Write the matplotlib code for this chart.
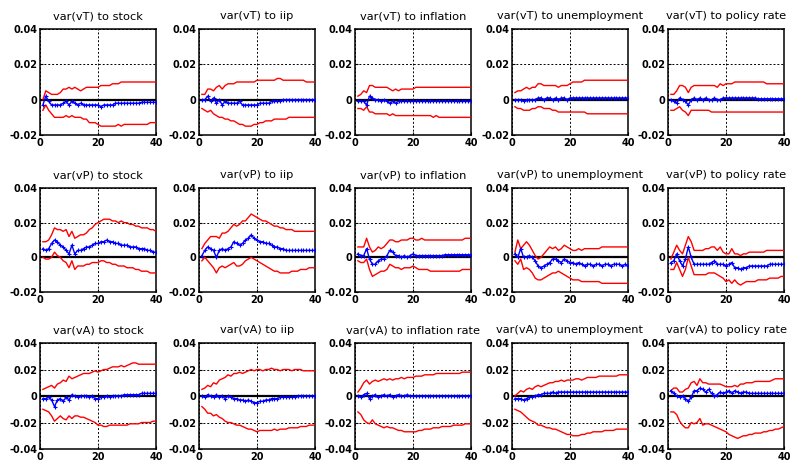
import numpy as np
import matplotlib
matplotlib.use("Agg")
import matplotlib.pyplot as plt
from matplotlib.ticker import FuncFormatter

plt.rcParams['font.family'] = ['DejaVu Sans']
plt.rcParams['axes.unicode_minus'] = False

horizon = np.arange(1, 41)

titles = [
    ["var(vT) to stock", "var(vT) to iip", "var(vT) to inflation", "var(vT) to unemployment", "var(vT) to policy rate"],
    ["var(vP) to stock", "var(vP) to iip", "var(vP) to inflation", "var(vP) to unemployment", "var(vP) to policy rate"],
    ["var(vA) to stock", "var(vA) to iip", "var(vA) to inflation rate", "var(vA) to unemployment", "var(vA) to policy rate"],
]
row_yticks = [[-0.02, 0, 0.02, 0.04], [-0.02, 0, 0.02, 0.04], [-0.04, -0.02, 0, 0.02, 0.04]]
xticks = [0, 20, 40]

# ---------------- row 1: vT ----------------
vT_stock_hi = [0.000, 0.005, 0.004, 0.003, 0.003, 0.003, 0.004, 0.006, 0.006, 0.007,
               0.006, 0.007, 0.006, 0.005, 0.006, 0.007, 0.007, 0.007, 0.007, 0.007,
               0.008, 0.008, 0.008, 0.008, 0.009, 0.009, 0.009, 0.010, 0.010, 0.010,
               0.010, 0.010, 0.010, 0.010, 0.010, 0.010, 0.010, 0.010, 0.010, 0.010]
vT_stock_md = [-0.003, 0.002, -0.001, -0.003, -0.003, -0.003, -0.003, -0.002, -0.001, -0.003,
               -0.001, -0.002, -0.003, -0.002, -0.003, -0.003, -0.003, -0.003, -0.003, -0.003,
               -0.004, -0.003, -0.003, -0.003, -0.003, -0.002, -0.002, -0.002, -0.002, -0.002,
               -0.002, -0.002, -0.002, -0.002, -0.0015, -0.0015, -0.0015, -0.0015, -0.0015, -0.0015]
vT_stock_lo = [-0.006, -0.003, -0.006, -0.008, -0.010, -0.010, -0.010, -0.010, -0.009, -0.010,
               -0.009, -0.010, -0.010, -0.010, -0.011, -0.011, -0.013, -0.013, -0.013, -0.014,
               -0.015, -0.015, -0.015, -0.015, -0.015, -0.015, -0.014, -0.015, -0.014, -0.014,
               -0.014, -0.014, -0.014, -0.014, -0.014, -0.014, -0.014, -0.013, -0.013, -0.013]

vT_iip_hi = [0.003, 0.003, 0.006, 0.006, 0.005, 0.007, 0.008, 0.006, 0.008, 0.009,
             0.009, 0.009, 0.010, 0.010, 0.010, 0.010, 0.010, 0.010, 0.010, 0.011,
             0.011, 0.011, 0.011, 0.011, 0.011, 0.011, 0.012, 0.012, 0.011, 0.011,
             0.011, 0.011, 0.011, 0.011, 0.011, 0.011, 0.010, 0.010, 0.010, 0.010]
vT_iip_md = [0.000, 0.000, 0.002, -0.001, 0.001, -0.002, 0.000, -0.003, -0.001, -0.002,
             -0.002, -0.002, -0.002, -0.001, -0.003, -0.003, -0.003, -0.003, -0.003, -0.003,
             -0.002, -0.002, -0.002, -0.002, -0.001, -0.001, -0.001, -0.001, 0.000, 0.000,
             0.000, 0.000, 0.000, 0.000, 0.000, 0.000, 0.000, 0.000, 0.000, 0.000]
vT_iip_lo = [-0.005, -0.006, -0.007, -0.006, -0.008, -0.009, -0.010, -0.010, -0.011, -0.011,
             -0.012, -0.012, -0.013, -0.014, -0.014, -0.015, -0.015, -0.015, -0.014, -0.014,
             -0.013, -0.013, -0.012, -0.012, -0.012, -0.011, -0.011, -0.011, -0.011, -0.011,
             -0.010, -0.010, -0.010, -0.010, -0.010, -0.010, -0.010, -0.010, -0.010, -0.010]

vT_infl_hi = [0.002, 0.003, 0.005, 0.004, 0.008, 0.008, 0.007, 0.007, 0.007, 0.007,
              0.007, 0.006, 0.005, 0.006, 0.005, 0.006, 0.006, 0.006, 0.006, 0.006,
              0.007, 0.007, 0.007, 0.007, 0.007, 0.007, 0.007, 0.007, 0.007, 0.007,
              0.007, 0.007, 0.007, 0.007, 0.007, 0.007, 0.007, 0.007, 0.007, 0.007]
vT_infl_md = [-0.001, -0.001, -0.001, -0.003, 0.002, 0.001, 0.000, 0.000, -0.001, 0.000,
              -0.001, -0.002, -0.001, -0.002, -0.001, -0.001, -0.001, -0.001, -0.001, -0.001,
              -0.001, -0.001, -0.001, -0.001, -0.001, -0.001, -0.001, -0.001, -0.001, -0.001,
              -0.001, -0.001, -0.001, -0.001, -0.001, -0.001, -0.001, -0.001, -0.001, -0.001]
vT_infl_lo = [-0.005, -0.005, -0.006, -0.004, -0.007, -0.007, -0.008, -0.008, -0.008, -0.008,
              -0.008, -0.009, -0.008, -0.009, -0.009, -0.009, -0.009, -0.009, -0.009, -0.009,
              -0.009, -0.009, -0.009, -0.009, -0.009, -0.009, -0.010, -0.009, -0.010, -0.010,
              -0.010, -0.010, -0.010, -0.010, -0.010, -0.010, -0.010, -0.010, -0.010, -0.010]

vT_unemp_hi = [0.004, 0.005, 0.005, 0.006, 0.007, 0.006, 0.007, 0.007, 0.009, 0.009,
               0.008, 0.008, 0.008, 0.008, 0.008, 0.007, 0.008, 0.008, 0.008, 0.009,
               0.010, 0.010, 0.010, 0.010, 0.011, 0.011, 0.011, 0.011, 0.011, 0.011,
               0.011, 0.011, 0.011, 0.011, 0.011, 0.011, 0.011, 0.011, 0.011, 0.011]
vT_unemp_md = [0.000, 0.000, 0.000, -0.001, 0.000, 0.000, 0.000, 0.000, 0.001, 0.001,
               0.000, 0.001, 0.001, 0.000, 0.001, 0.000, 0.001, 0.001, 0.000, 0.001,
               0.001, 0.001, 0.001, 0.001, 0.001, 0.001, 0.001, 0.001, 0.001, 0.001,
               0.001, 0.001, 0.001, 0.001, 0.001, 0.001, 0.001, 0.001, 0.001, 0.001]
vT_unemp_lo = [-0.004, -0.005, -0.005, -0.006, -0.006, -0.006, -0.005, -0.005, -0.004, -0.004,
               -0.005, -0.005, -0.005, -0.006, -0.006, -0.007, -0.007, -0.007, -0.007, -0.007,
               -0.007, -0.007, -0.007, -0.007, -0.007, -0.008, -0.008, -0.008, -0.008, -0.008,
               -0.008, -0.008, -0.008, -0.008, -0.008, -0.008, -0.008, -0.008, -0.008, -0.008]

vT_rate_hi = [0.003, 0.003, 0.005, 0.008, 0.008, 0.007, 0.004, 0.007, 0.008, 0.008,
              0.008, 0.008, 0.008, 0.008, 0.008, 0.008, 0.007, 0.009, 0.008, 0.009,
              0.009, 0.009, 0.010, 0.010, 0.010, 0.010, 0.010, 0.010, 0.010, 0.010,
              0.010, 0.010, 0.010, 0.009, 0.009, 0.009, 0.009, 0.009, 0.009, 0.009]
vT_rate_md = [0.000, -0.001, -0.002, 0.001, 0.000, -0.001, -0.003, 0.000, 0.001, 0.000,
              0.001, 0.000, 0.001, 0.000, 0.000, 0.001, 0.000, 0.000, 0.001, 0.001,
              0.001, 0.001, 0.001, 0.001, 0.001, 0.001, 0.001, 0.001, 0.001, 0.001,
              0.0005, 0.0005, 0.0005, 0.0005, 0.0005, 0.0005, 0.0005, 0.0005, 0.0005, 0.0005]
vT_rate_lo = [-0.006, -0.006, -0.005, -0.004, -0.006, -0.007, -0.009, -0.006, -0.006, -0.006,
              -0.006, -0.006, -0.006, -0.006, -0.007, -0.007, -0.007, -0.007, -0.007, -0.007,
              -0.007, -0.007, -0.007, -0.007, -0.007, -0.007, -0.007, -0.007, -0.007, -0.007,
              -0.007, -0.007, -0.007, -0.007, -0.007, -0.007, -0.007, -0.007, -0.007, -0.007]

# ---------------- row 2: vP ----------------
vP_stock_hi = [0.009, 0.009, 0.010, 0.013, 0.017, 0.016, 0.016, 0.015, 0.016, 0.012,
               0.015, 0.011, 0.012, 0.013, 0.013, 0.014, 0.016, 0.017, 0.019, 0.020,
               0.021, 0.022, 0.022, 0.022, 0.021, 0.021, 0.020, 0.021, 0.020, 0.020,
               0.019, 0.019, 0.018, 0.018, 0.017, 0.017, 0.017, 0.016, 0.016, 0.015]
vP_stock_md = [0.005, 0.004, 0.005, 0.008, 0.010, 0.009, 0.007, 0.006, 0.004, 0.002,
               0.007, 0.002, 0.004, 0.004, 0.005, 0.006, 0.006, 0.007, 0.008, 0.008,
               0.009, 0.009, 0.010, 0.009, 0.009, 0.008, 0.008, 0.007, 0.007, 0.007,
               0.006, 0.006, 0.006, 0.005, 0.005, 0.005, 0.004, 0.004, 0.003, 0.003]
vP_stock_lo = [0.000, -0.001, -0.001, 0.000, 0.003, 0.001, 0.000, -0.002, -0.003, -0.006,
               -0.002, -0.007, -0.005, -0.005, -0.005, -0.004, -0.004, -0.003, -0.003, -0.003,
               -0.002, -0.002, -0.003, -0.003, -0.004, -0.004, -0.005, -0.005, -0.005, -0.006,
               -0.006, -0.006, -0.007, -0.007, -0.008, -0.008, -0.008, -0.009, -0.009, -0.009]

vP_iip_hi = [0.005, 0.008, 0.010, 0.012, 0.012, 0.012, 0.011, 0.014, 0.014, 0.015,
             0.017, 0.019, 0.018, 0.019, 0.021, 0.021, 0.023, 0.025, 0.024, 0.023,
             0.022, 0.021, 0.021, 0.020, 0.019, 0.018, 0.018, 0.017, 0.017, 0.016,
             0.016, 0.016, 0.015, 0.015, 0.015, 0.015, 0.015, 0.015, 0.015, 0.015]
vP_iip_md = [0.001, 0.004, 0.006, 0.005, 0.004, 0.000, 0.004, 0.005, 0.004, 0.005,
             0.006, 0.009, 0.008, 0.007, 0.008, 0.010, 0.011, 0.013, 0.011, 0.010,
             0.009, 0.009, 0.008, 0.008, 0.007, 0.006, 0.006, 0.005, 0.005, 0.004,
             0.004, 0.004, 0.004, 0.004, 0.004, 0.004, 0.004, 0.004, 0.004, 0.004]
vP_iip_lo = [-0.002, 0.000, -0.002, -0.004, -0.006, -0.009, -0.006, -0.005, -0.006, -0.005,
             -0.004, -0.003, -0.005, -0.005, -0.004, -0.002, -0.001, 0.000, -0.001, -0.002,
             -0.003, -0.004, -0.005, -0.006, -0.007, -0.008, -0.008, -0.009, -0.009, -0.009,
             -0.009, -0.008, -0.008, -0.008, -0.007, -0.007, -0.007, -0.006, -0.006, -0.006]

vP_infl_hi = [0.006, 0.006, 0.006, 0.011, 0.006, 0.003, 0.004, 0.006, 0.005, 0.006,
              0.008, 0.010, 0.010, 0.009, 0.009, 0.010, 0.010, 0.010, 0.011, 0.011,
              0.010, 0.010, 0.011, 0.010, 0.010, 0.010, 0.010, 0.010, 0.010, 0.010,
              0.010, 0.010, 0.010, 0.010, 0.010, 0.010, 0.010, 0.011, 0.011, 0.011]
vP_infl_md = [0.002, 0.001, 0.001, 0.005, -0.001, -0.004, -0.004, -0.002, -0.001, -0.001,
              0.001, 0.004, 0.003, 0.001, 0.001, 0.000, 0.001, 0.000, 0.001, 0.002,
              0.001, 0.001, 0.001, 0.001, 0.001, 0.001, 0.001, 0.001, 0.001, 0.001,
              0.0015, 0.0015, 0.0015, 0.0015, 0.0015, 0.0015, 0.0015, 0.0015, 0.0015, 0.0015]
vP_infl_lo = [-0.002, -0.003, -0.003, -0.001, -0.007, -0.011, -0.010, -0.009, -0.008, -0.008,
              -0.007, -0.004, -0.005, -0.006, -0.006, -0.007, -0.006, -0.006, -0.006, -0.005,
              -0.006, -0.007, -0.007, -0.007, -0.007, -0.008, -0.008, -0.008, -0.008, -0.008,
              -0.008, -0.008, -0.008, -0.008, -0.008, -0.008, -0.007, -0.007, -0.007, -0.007]

vP_unemp_hi = [0.003, 0.010, 0.005, 0.007, 0.009, 0.007, 0.004, 0.001, -0.001, 0.000,
               0.002, 0.004, 0.006, 0.005, 0.006, 0.004, 0.005, 0.007, 0.006, 0.005,
               0.004, 0.004, 0.005, 0.004, 0.005, 0.005, 0.005, 0.005, 0.005, 0.005,
               0.006, 0.006, 0.006, 0.006, 0.006, 0.006, 0.006, 0.006, 0.006, 0.006]
vP_unemp_md = [0.002, 0.000, 0.005, 0.000, 0.000, 0.001, 0.000, -0.002, -0.005, -0.006,
               -0.005, -0.004, -0.003, -0.001, -0.001, -0.002, -0.003, -0.001, -0.002, -0.003,
               -0.003, -0.004, -0.003, -0.004, -0.005, -0.004, -0.004, -0.005, -0.004, -0.004,
               -0.005, -0.004, -0.004, -0.005, -0.004, -0.004, -0.004, -0.005, -0.004, -0.005]
vP_unemp_lo = [-0.002, -0.004, -0.001, -0.007, -0.006, -0.007, -0.009, -0.012, -0.013, -0.013,
               -0.012, -0.011, -0.010, -0.009, -0.009, -0.008, -0.009, -0.010, -0.011, -0.012,
               -0.013, -0.013, -0.013, -0.014, -0.014, -0.014, -0.014, -0.014, -0.014, -0.014,
               -0.015, -0.015, -0.015, -0.015, -0.015, -0.015, -0.015, -0.015, -0.015, -0.015]

vP_rate_hi = [-0.001, 0.003, 0.007, 0.004, 0.002, 0.007, 0.012, 0.009, 0.004, 0.004,
              0.004, 0.004, 0.005, 0.005, 0.006, 0.006, 0.004, 0.006, 0.003, 0.002,
              0.002, 0.005, 0.002, 0.002, 0.001, 0.002, 0.002, 0.003, 0.003, 0.003,
              0.003, 0.003, 0.003, 0.004, 0.004, 0.004, 0.004, 0.004, 0.004, 0.004]
vP_rate_md = [-0.003, -0.002, 0.002, -0.002, -0.005, -0.001, 0.006, 0.000, -0.004, -0.004,
              -0.004, -0.004, -0.004, -0.004, -0.003, -0.002, -0.004, -0.004, -0.004, -0.005,
              -0.004, -0.003, -0.006, -0.006, -0.007, -0.006, -0.006, -0.005, -0.005, -0.005,
              -0.005, -0.005, -0.005, -0.005, -0.004, -0.004, -0.004, -0.004, -0.004, -0.004]
vP_rate_lo = [-0.007, -0.007, -0.003, -0.007, -0.011, -0.007, 0.000, -0.005, -0.010, -0.010,
              -0.010, -0.010, -0.010, -0.009, -0.009, -0.009, -0.010, -0.011, -0.012, -0.014,
              -0.013, -0.015, -0.013, -0.015, -0.016, -0.015, -0.014, -0.014, -0.014, -0.014,
              -0.013, -0.013, -0.013, -0.013, -0.012, -0.012, -0.012, -0.012, -0.011, -0.011]

# ---------------- row 3: vA ----------------
vA_stock_hi = [0.005, 0.006, 0.007, 0.008, 0.006, 0.009, 0.010, 0.012, 0.011, 0.015,
               0.013, 0.014, 0.015, 0.016, 0.017, 0.017, 0.017, 0.018, 0.019, 0.018,
               0.019, 0.020, 0.020, 0.021, 0.022, 0.022, 0.022, 0.023, 0.022, 0.023,
               0.024, 0.025, 0.025, 0.024, 0.024, 0.024, 0.024, 0.024, 0.024, 0.024]
vA_stock_md = [-0.002, -0.002, -0.001, -0.003, -0.008, -0.003, -0.002, -0.004, -0.001, -0.003,
               0.001, 0.000, -0.001, 0.000, 0.000, 0.000, -0.001, 0.000, -0.002, -0.002,
               -0.001, -0.001, 0.000, -0.001, 0.000, 0.000, 0.000, 0.000, 0.001, 0.001,
               0.001, 0.001, 0.001, 0.001, 0.002, 0.002, 0.002, 0.002, 0.002, 0.002]
vA_stock_lo = [-0.010, -0.011, -0.012, -0.015, -0.019, -0.017, -0.015, -0.017, -0.018, -0.015,
               -0.017, -0.015, -0.015, -0.016, -0.016, -0.017, -0.018, -0.019, -0.020, -0.022,
               -0.022, -0.023, -0.023, -0.022, -0.022, -0.022, -0.022, -0.022, -0.022, -0.022,
               -0.021, -0.021, -0.021, -0.021, -0.020, -0.020, -0.020, -0.020, -0.019, -0.019]

vA_iip_hi = [0.005, 0.006, 0.008, 0.007, 0.010, 0.009, 0.012, 0.013, 0.014, 0.016,
             0.015, 0.017, 0.017, 0.018, 0.017, 0.018, 0.019, 0.020, 0.019, 0.020,
             0.020, 0.019, 0.020, 0.020, 0.021, 0.020, 0.020, 0.019, 0.020, 0.020,
             0.020, 0.019, 0.020, 0.020, 0.020, 0.019, 0.019, 0.019, 0.019, 0.019]
vA_iip_md = [0.000, -0.001, 0.001, 0.000, -0.001, 0.001, -0.001, 0.000, -0.002, 0.000,
             -0.001, -0.002, -0.002, -0.003, -0.003, -0.004, -0.003, -0.004, -0.005, -0.005,
             -0.004, -0.004, -0.003, -0.003, -0.002, -0.002, -0.002, -0.001, -0.001, -0.001,
             -0.001, -0.001, -0.001, 0.000, 0.000, 0.000, 0.000, 0.000, 0.000, 0.000]
vA_iip_lo = [-0.008, -0.010, -0.013, -0.013, -0.015, -0.014, -0.016, -0.017, -0.019, -0.020,
             -0.020, -0.021, -0.022, -0.022, -0.023, -0.024, -0.025, -0.025, -0.026, -0.027,
             -0.026, -0.026, -0.026, -0.026, -0.026, -0.025, -0.026, -0.025, -0.025, -0.025,
             -0.024, -0.024, -0.024, -0.024, -0.023, -0.023, -0.023, -0.022, -0.022, -0.022]

vA_infl_hi = [0.003, 0.006, 0.010, 0.012, 0.009, 0.011, 0.012, 0.011, 0.012, 0.013,
              0.012, 0.013, 0.012, 0.013, 0.013, 0.014, 0.013, 0.014, 0.014, 0.014,
              0.015, 0.015, 0.015, 0.016, 0.016, 0.016, 0.016, 0.017, 0.017, 0.017,
              0.017, 0.017, 0.017, 0.017, 0.017, 0.017, 0.018, 0.018, 0.018, 0.018]
vA_infl_md = [0.000, -0.001, 0.001, 0.002, -0.002, 0.000, 0.001, -0.001, 0.000, 0.001,
              0.000, 0.001, -0.001, 0.000, 0.001, 0.000, 0.000, 0.001, 0.000, 0.000,
              0.000, 0.000, 0.000, 0.000, 0.000, 0.000, 0.000, 0.000, 0.000, 0.000,
              0.000, 0.000, 0.000, 0.000, 0.000, 0.000, 0.000, 0.000, 0.000, 0.000]
vA_infl_lo = [-0.012, -0.014, -0.018, -0.020, -0.021, -0.018, -0.021, -0.022, -0.023, -0.024,
              -0.023, -0.024, -0.024, -0.025, -0.026, -0.026, -0.027, -0.027, -0.027, -0.027,
              -0.027, -0.026, -0.026, -0.025, -0.025, -0.025, -0.024, -0.024, -0.024, -0.023,
              -0.023, -0.023, -0.023, -0.022, -0.022, -0.022, -0.022, -0.021, -0.021, -0.021]

vA_unemp_hi = [0.000, 0.002, 0.004, 0.003, 0.005, 0.006, 0.005, 0.007, 0.008, 0.007,
               0.008, 0.009, 0.010, 0.010, 0.011, 0.011, 0.012, 0.011, 0.012, 0.012,
               0.012, 0.013, 0.013, 0.012, 0.013, 0.014, 0.014, 0.014, 0.014, 0.015,
               0.015, 0.015, 0.015, 0.015, 0.015, 0.015, 0.016, 0.016, 0.016, 0.016]
vA_unemp_md = [-0.002, -0.002, -0.002, -0.003, -0.002, -0.001, -0.001, 0.000, 0.001, 0.001,
               0.002, 0.002, 0.002, 0.003, 0.002, 0.003, 0.003, 0.003, 0.003, 0.003,
               0.003, 0.003, 0.003, 0.003, 0.003, 0.003, 0.003, 0.003, 0.003, 0.003,
               0.003, 0.003, 0.003, 0.003, 0.003, 0.003, 0.003, 0.003, 0.003, 0.003]
vA_unemp_lo = [-0.010, -0.011, -0.012, -0.014, -0.016, -0.018, -0.019, -0.020, -0.022, -0.022,
               -0.023, -0.024, -0.024, -0.025, -0.025, -0.026, -0.027, -0.028, -0.029, -0.029,
               -0.030, -0.030, -0.030, -0.029, -0.029, -0.028, -0.028, -0.027, -0.027, -0.027,
               -0.027, -0.026, -0.026, -0.026, -0.026, -0.025, -0.025, -0.025, -0.025, -0.025]

vA_rate_hi = [0.004, 0.006, 0.006, 0.003, 0.003, 0.005, 0.006, 0.010, 0.011, 0.008,
              0.013, 0.010, 0.010, 0.009, 0.009, 0.009, 0.009, 0.009, 0.008, 0.007,
              0.007, 0.007, 0.008, 0.007, 0.009, 0.009, 0.010, 0.010, 0.010, 0.011,
              0.011, 0.011, 0.011, 0.011, 0.011, 0.012, 0.013, 0.013, 0.013, 0.013]
vA_rate_md = [0.004, 0.002, 0.000, -0.001, 0.000, -0.002, -0.004, -0.001, 0.004, 0.004,
              0.006, 0.005, 0.003, 0.005, 0.002, 0.000, 0.001, 0.003, 0.002, 0.003,
              0.004, 0.002, 0.004, 0.003, 0.002, 0.003, 0.003, 0.002, 0.002, 0.002,
              0.002, 0.002, 0.002, 0.002, 0.002, 0.002, 0.002, 0.002, 0.002, 0.002]
vA_rate_lo = [-0.012, -0.012, -0.014, -0.019, -0.022, -0.024, -0.024, -0.020, -0.021, -0.020,
              -0.017, -0.022, -0.021, -0.021, -0.022, -0.023, -0.024, -0.025, -0.026, -0.027,
              -0.029, -0.030, -0.031, -0.032, -0.031, -0.030, -0.030, -0.029, -0.029, -0.028,
              -0.028, -0.028, -0.027, -0.027, -0.026, -0.026, -0.025, -0.025, -0.024, -0.023]

panels = [
    [(vT_stock_lo, vT_stock_md, vT_stock_hi), (vT_iip_lo, vT_iip_md, vT_iip_hi),
     (vT_infl_lo, vT_infl_md, vT_infl_hi), (vT_unemp_lo, vT_unemp_md, vT_unemp_hi),
     (vT_rate_lo, vT_rate_md, vT_rate_hi)],
    [(vP_stock_lo, vP_stock_md, vP_stock_hi), (vP_iip_lo, vP_iip_md, vP_iip_hi),
     (vP_infl_lo, vP_infl_md, vP_infl_hi), (vP_unemp_lo, vP_unemp_md, vP_unemp_hi),
     (vP_rate_lo, vP_rate_md, vP_rate_hi)],
    [(vA_stock_lo, vA_stock_md, vA_stock_hi), (vA_iip_lo, vA_iip_md, vA_iip_hi),
     (vA_infl_lo, vA_infl_md, vA_infl_hi), (vA_unemp_lo, vA_unemp_md, vA_unemp_hi),
     (vA_rate_lo, vA_rate_md, vA_rate_hi)],
]

W, H = 794, 465
fig = plt.figure(figsize=(W / 100, H / 100), dpi=100)

col_left = [40, 199, 355, 512, 668]
ax_w = 116
row_top = [29, 188, 343]
row_h = [106, 104, 106]


def fmt(v, pos):
    if abs(v) < 1e-12:
        return "0"
    if abs(v - round(v)) < 1e-12:
        return "%d" % round(v)
    return ("%.2f" % v)


for r in range(3):
    for c in range(5):
        lo, md, hi = panels[r][c]
        ax = fig.add_axes([col_left[c] / W, 1 - (row_top[r] + row_h[r]) / H, ax_w / W, row_h[r] / H])
        ax.axhline(0, color='k', lw=1.6, zorder=2)
        ax.plot(horizon, hi, color='red', lw=1.0, zorder=3)
        ax.plot(horizon, lo, color='red', lw=1.0, zorder=3)
        ax.plot(horizon, md, color='blue', lw=1.0, marker='+', ms=3, mew=0.8, zorder=4)
        ax.set_xlim(0, 40)
        yt = row_yticks[r]
        ax.set_ylim(yt[0], yt[-1])
        ax.set_xticks(xticks)
        ax.set_yticks(yt)
        ax.xaxis.set_major_formatter(FuncFormatter(fmt))
        ax.yaxis.set_major_formatter(FuncFormatter(fmt))
        ax.grid(True, ls=(0, (2, 2)), color='k', lw=0.7)
        ax.tick_params(direction='in', length=2, width=0.8, labelsize=7, pad=2)
        for lab in ax.get_xticklabels() + ax.get_yticklabels():
            lab.set_fontweight('bold')
        for sp in ax.spines.values():
            sp.set_linewidth(1.1)
        ax.set_title(titles[r][c], fontsize=8.2, pad=7)

fig.savefig("out.png", dpi=100)
